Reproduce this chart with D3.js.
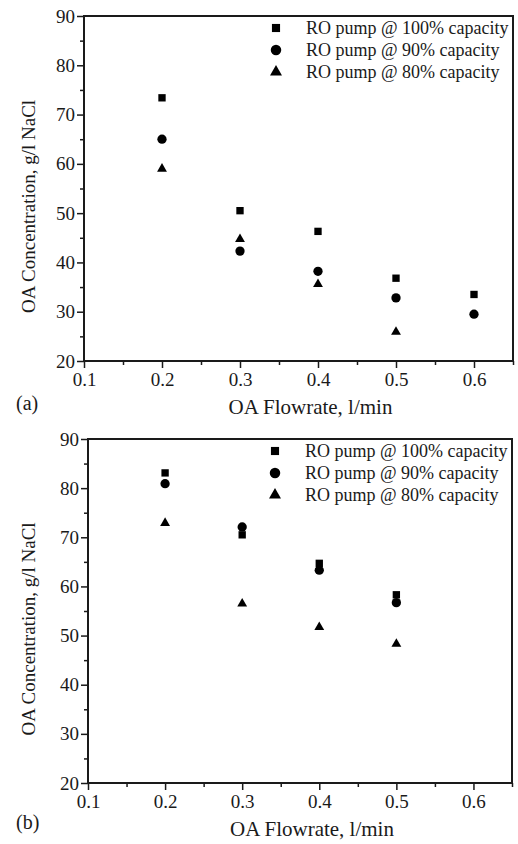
<!DOCTYPE html>
<html>
<head>
<meta charset="utf-8">
<script src="https://cdn.jsdelivr.net/npm/d3@7"></script>
<style>
  body { margin: 0; background: #fff; }
  svg { display: block; font-family: "Liberation Serif", "Times New Roman", serif; }
</style>
</head>
<body>
<svg id="chart" width="518" height="844"></svg>
<script>
// panel (a)
var flowA = [0.2, 0.3, 0.4, 0.5, 0.6];
var flowA80 = [0.2, 0.3, 0.4, 0.5];
var concA100 = [73.4, 50.5, 46.3, 36.8, 33.5];
var concA90 = [65.0, 42.3, 38.2, 32.8, 29.5];
var concA80 = [59.0, 44.7, 35.6, 25.9];

// panel (b)
var flowB = [0.2, 0.3, 0.4, 0.5];
var concB100 = [83.1, 70.5, 64.7, 58.3];
var concB90 = [80.9, 72.1, 63.3, 56.7];
var concB80 = [72.9, 56.5, 51.7, 48.3];

var seriesNames = ['RO pump @ 100% capacity', 'RO pump @ 90% capacity', 'RO pump @ 80% capacity'];
var xTicks = [0.1, 0.2, 0.3, 0.4, 0.5, 0.6];
var xMinor = [0.15, 0.25, 0.35, 0.45, 0.55, 0.65];
var yTicks = [20, 30, 40, 50, 60, 70, 80, 90];
var yMinor = [25, 35, 45, 55, 65, 75, 85];
var xTitle = 'OA Flowrate, l/min';
var yTitle = 'OA Concentration, g/l NaCl';

var svg = d3.select('#chart');
var ink = '#1a1a1a';

var shapes = [d3.symbolSquare, d3.symbolCircle, d3.symbolTriangle];
var markSizes = [54, 68, 42];
var legendSizes = [66, 86, 62];

function drawPanel(opts) {
  var left = opts.left, right = opts.right, top = opts.top, bottom = opts.bottom;

  var x = d3.scaleLinear().domain([0.1, 0.65]).range([left, right]);
  var y = d3.scaleLinear().domain([20, 90]).range([bottom, top]);

  var g = svg.append('g');

  // minor ticks
  g.append('g')
    .attr('transform', 'translate(0,' + bottom + ')')
    .call(d3.axisBottom(x).tickValues(xMinor).tickSize(4).tickFormat(''))
    .call(styleAxis);
  g.append('g')
    .attr('transform', 'translate(' + left + ',0)')
    .call(d3.axisLeft(y).tickValues(yMinor).tickSize(4).tickFormat(''))
    .call(styleAxis);

  // major ticks
  g.append('g')
    .attr('transform', 'translate(0,' + bottom + ')')
    .call(d3.axisBottom(x).tickValues(xTicks).tickSize(7).tickPadding(5).tickFormat(d3.format('.1f')))
    .call(styleAxis);
  g.append('g')
    .attr('transform', 'translate(' + left + ',0)')
    .call(d3.axisLeft(y).tickValues(yTicks).tickSize(7).tickPadding(2).tickFormat(d3.format('d')))
    .call(styleAxis);

  // frame
  g.append('rect')
    .attr('x', left).attr('y', top)
    .attr('width', right - left).attr('height', bottom - top)
    .attr('fill', 'none').attr('stroke', ink).attr('stroke-width', 2);

  // points
  opts.series.forEach(function (s, i) {
    g.selectAll(null)
      .data(s.values.map(function (v, k) { return [s.flow[k], v]; }))
      .enter()
      .append('path')
      .attr('d', d3.symbol().type(shapes[i]).size(markSizes[i]))
      .attr('transform', function (d) { return 'translate(' + x(d[0]) + ',' + y(d[1]) + ')'; })
      .attr('fill', '#000');
  });

  // legend
  var legend = g.append('g').attr('transform', 'translate(' + (right - 237) + ',' + (top + 12) + ')');
  seriesNames.forEach(function (name, i) {
    var row = legend.append('g').attr('transform', 'translate(0,' + (i * 22) + ')');
    row.append('path')
      .attr('d', d3.symbol().type(shapes[i]).size(legendSizes[i]))
      .attr('fill', '#000');
    row.append('text')
      .attr('x', 30).attr('y', 6)
      .attr('font-size', 18)
      .attr('fill', ink)
      .text(name);
  });

  // axis titles
  g.append('text')
    .attr('x', (left + right) / 2 + 12).attr('y', opts.titleY)
    .attr('text-anchor', 'middle')
    .attr('font-size', 21)
    .attr('fill', ink)
    .text(xTitle);
  g.append('text')
    .attr('transform', 'translate(35,' + ((top + bottom) / 2 + 18) + ') rotate(-90)')
    .attr('text-anchor', 'middle')
    .attr('font-size', 19)
    .attr('fill', ink)
    .text(yTitle);

  // panel label
  g.append('text')
    .attr('x', 16).attr('y', opts.labelY)
    .attr('font-size', 20)
    .attr('fill', ink)
    .text(opts.label);
}

function styleAxis(sel) {
  sel.select('.domain').remove();
  sel.selectAll('.tick line').attr('stroke', ink).attr('stroke-width', 1.5);
  sel.selectAll('.tick text')
    .attr('fill', ink)
    .attr('font-size', 19)
    .attr('font-family', '"Liberation Serif", "Times New Roman", serif');
}

drawPanel({
  left: 84, right: 513, top: 16, bottom: 361,
  titleY: 414, labelY: 410, label: '(a)',
  series: [
    { flow: flowA, values: concA100 },
    { flow: flowA, values: concA90 },
    { flow: flowA80, values: concA80 }
  ]
});

drawPanel({
  left: 88, right: 512, top: 439, bottom: 783,
  titleY: 836, labelY: 829, label: '(b)',
  series: [
    { flow: flowB, values: concB100 },
    { flow: flowB, values: concB90 },
    { flow: flowB, values: concB80 }
  ]
});
</script>
</body>
</html>
